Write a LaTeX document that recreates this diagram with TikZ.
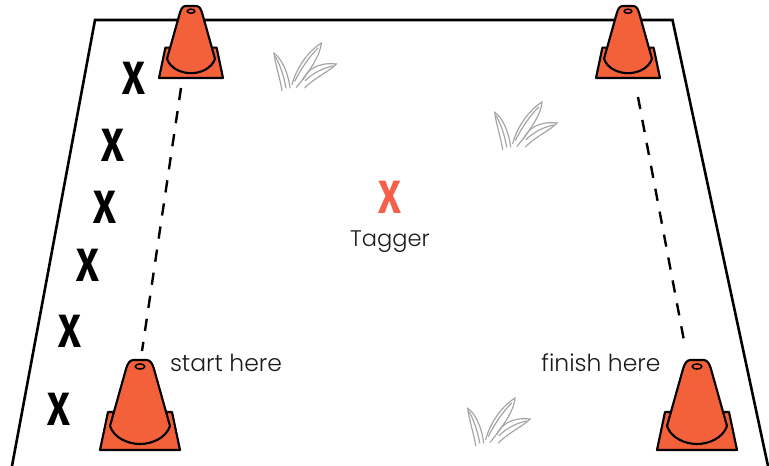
\documentclass[tikz,border=0pt]{standalone}
\usepackage{fontspec}
\setmainfont{Poppins}[UprightFont=* Light]
\newfontfamily\xfont{Fira Sans}[UprightFont=* Bold]
\definecolor{conefill}{HTML}{F3613A}
\definecolor{taggerred}{HTML}{F4604A}
\definecolor{grassgrey}{HTML}{A2A2A2}
\definecolor{inktext}{HTML}{1A1A1A}
\tikzset{
  x=0.75pt,y=-0.75pt,
  fieldline/.style={draw=black,line width=1.95pt,line join=miter},
  conepart/.style={draw=black,fill=conefill,line width=1.6pt,line join=round},
  guide/.style={draw=black,line width=1.8pt,dash pattern=on 9.2pt off 8.3pt},
  grassline/.style={draw=grassgrey,line width=0.85pt,line cap=round},
  player/.style={font=\xfont\fontsize{35}{35}\selectfont,xscale=0.84,inner sep=0pt,text=black},
  label/.style={font=\fontsize{17.6}{20}\selectfont,inner sep=0pt,text=inktext,anchor=base},
  cone/.pic={
    \path[conepart] (-40,90) -- (-32,52) -- (32,52) -- (40,90) -- cycle;
    \path[conepart] (-6.5,0) -- (6.5,0) .. controls (10.5,0) and (12.5,4) .. (14,9)
      -- (30,66) .. controls (26,78) and (12,84) .. (0,84)
      .. controls (-12,84) and (-26,78) .. (-30,66)
      -- (-14,9) .. controls (-12.5,4) and (-10.5,0) .. (-6.5,0) -- cycle;
    \draw[black,line width=1.1pt] (0,6.5) ellipse [x radius=4.8,y radius=2.6];
  },
  grass/.pic={
    \begin{scope}[scale=0.3333]
    \draw[grassline] (42,158) .. controls (36,120) and (22,80) .. (18,46)
      .. controls (38,58) and (60,100) .. (66,150);
    \draw[grassline] (22,56) .. controls (36,80) and (48,115) .. (54,150);
    \draw[grassline] (72,140) .. controls (85,90) and (120,40) .. (160,15)
      .. controls (158,50) and (125,100) .. (85,148);
    \draw[grassline] (80,130) .. controls (100,90) and (125,55) .. (150,30);
    \draw[grassline] (105,125) .. controls (118,95) and (150,72) .. (205,78)
      .. controls (185,100) and (145,115) .. (110,150);
    \draw[grassline] (112,128) .. controls (135,105) and (165,90) .. (195,84);
    \end{scope}
  },
}
\begin{document}
\begin{tikzpicture}
\useasboundingbox (0,0) rectangle (769,466);
% field
\coordinate (fbl) at (12,466);
\coordinate (ftl) at (95,20);
\coordinate (ftr) at (672.5,20);
\coordinate (fbr) at (768,466);
\path[fieldline] (fbl) -- (ftl) -- (ftr) -- (fbr);
% guides
\coordinate (gla) at (181,88);
\coordinate (glb) at (142,351);
\coordinate (gra) at (638,97);
\coordinate (grb) at (685,346);
\path[guide] (gla) -- (glb);
\path[guide] (gra) -- (grb);
% cones
\pic (conetl) at (191,6) [scale=0.8] {cone};
\pic (conetr) at (628,6) [scale=0.8] {cone};
\pic (conebl) at (140,360) {cone};
\pic (conebr) at (697,360) {cone};
% grass
\pic (grassa) at (268,38) {grass};
\pic (grassb) at (488.7,97) {grass};
\pic (grassc) at (461.7,393) {grass};
% players
\node[player] (p1) at (133.5,78) {X};
\node[player] (p2) at (113,145) {X};
\node[player] (p3) at (105,207) {X};
\node[player] (p4) at (88,265) {X};
\node[player] (p5) at (70,331) {X};
\node[player] (p6) at (59,409.5) {X};
\node[player,text=taggerred] (tagger) at (390,197) {X};
% labels
\node[label,font=\fontsize{16.9}{20}\selectfont] (tl) at (390,247) {Tagger};
\node[label] (sl) at (226,371.3) {start here};
\node[label] (fl) at (601,371.3) {finish here};
\end{tikzpicture}
\end{document}
